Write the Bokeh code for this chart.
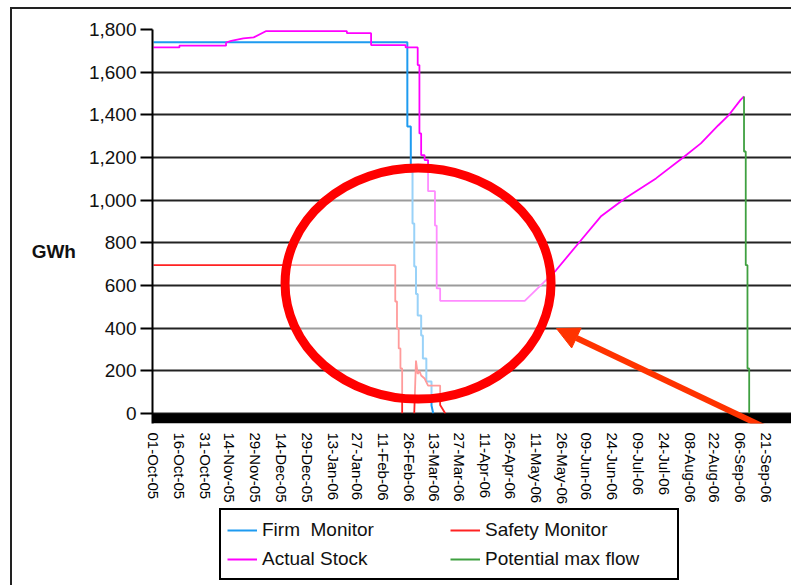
from datetime import datetime, timedelta
from bokeh.plotting import figure
from bokeh.layouts import column
from bokeh.models import (Range1d, FixedTicker, NumeralTickFormatter, DatetimeTickFormatter,
                          BoxAnnotation, Legend, LegendItem, Arrow, NormalHead)
from bokeh.embed import file_html
from bokeh.resources import INLINE

NAN = float("nan")

# ---------------- data ----------------
tick_labels = ["01-Oct-05", "16-Oct-05", "31-Oct-05", "14-Nov-05", "29-Nov-05", "14-Dec-05",
               "29-Dec-05", "13-Jan-06", "27-Jan-06", "11-Feb-06", "26-Feb-06", "13-Mar-06",
               "27-Mar-06", "11-Apr-06", "26-Apr-06", "11-May-06", "26-May-06", "09-Jun-06",
               "24-Jun-06", "09-Jul-06", "24-Jul-06", "08-Aug-06", "22-Aug-06", "06-Sep-06",
               "21-Sep-06"]
y_ticks = [0, 200, 400, 600, 800, 1000, 1200, 1400, 1600, 1800]

# legend order (column by column): Firm, Actual | Safety, Potential
series_names = ["Firm  Monitor", "Actual Stock", "Safety Monitor", "Potential max flow"]

firm_dates = ["2005-10-01", "2006-02-25", "2006-02-25", "2006-02-27", "2006-02-27", "2006-02-28",
              "2006-02-28", "2006-03-01", "2006-03-01", "2006-03-02", "2006-03-02", "2006-03-03",
              "2006-03-03", "2006-03-05", "2006-03-05", "2006-03-06", "2006-03-06", "2006-03-08",
              "2006-03-08", "2006-03-11", "2006-03-11", "2006-03-12"]
firm_values = [1740, 1740, 1345, 1345, 1133, 1133,
               891, 891, 689, 689, 560, 560,
               459, 459, 366, 366, 258, 258,
               150, 150, 37, 0]

safety_dates = ["2005-10-01", "2006-02-18", "2006-02-18", "2006-02-19", "2006-02-19", "2006-02-20",
                "2006-02-20", "2006-02-21", "2006-02-21", "2006-02-22", "2006-02-22", "2006-02-25",
                "2006-03-01", "2006-03-02", "2006-03-03", "2006-03-04", "2006-03-05", "2006-03-07",
                "2006-03-09", "2006-03-16", "2006-03-16", "2006-03-19"]
safety_values = [695, 695, 525, 525, 398, 398,
                 305, 305, 211, 211, 0, NAN,
                 0, 248, 185, 200, 178, 164,
                 131, 131, 40, 0]

stock_dates = ["2005-10-01", "2005-10-16", "2005-10-16", "2005-11-12", "2005-11-12", "2005-11-15",
               "2005-11-22", "2005-11-28", "2005-12-05", "2006-01-21", "2006-01-21", "2006-02-04",
               "2006-02-04", "2006-02-24", "2006-02-24", "2006-03-03", "2006-03-03", "2006-03-04",
               "2006-03-04", "2006-03-05", "2006-03-05", "2006-03-07", "2006-03-07", "2006-03-09",
               "2006-03-09", "2006-03-13", "2006-03-13", "2006-03-14", "2006-03-14", "2006-03-16",
               "2006-03-16", "2006-05-04", "2006-05-22", "2006-06-04", "2006-06-17", "2006-07-01",
               "2006-07-19", "2006-08-03", "2006-08-14", "2006-08-24", "2006-08-30", "2006-09-06",
               "2006-09-08"]
stock_values = [1716, 1716, 1724, 1724, 1739, 1747,
                1758, 1763, 1792, 1792, 1783, 1783,
                1727, 1727, 1716, 1716, 1633, 1633,
                1313, 1313, 1211, 1211, 1188, 1188,
                1042, 1042, 881, 881, 586, 586,
                528, 528, 670, 797, 923, 1008,
                1102, 1195, 1266, 1350, 1397, 1470,
                1486]

flow_dates = ["2006-09-08", "2006-09-08", "2006-09-09", "2006-09-09", "2006-09-10", "2006-09-10",
              "2006-09-11", "2006-09-11"]
flow_values = [1486, 1228, 1228, 695, 695, 211, 211, 0]

# ---------------- helpers ----------------
START = datetime(2005, 10, 1)
EPOCH = datetime(1970, 1, 1)


def to_dt(s):
    return datetime.strptime(s, "%Y-%m-%d")


def day_ms(days):
    return (START + timedelta(days=days) - EPOCH).total_seconds() * 1000.0


FONT = "Liberation Sans"
C_FIRM, C_SAFE, C_STOCK, C_FLOW = "#1E9BF0", "#FF2222", "#FF00FF", "#3FA040"

p = figure(frame_width=639, frame_height=394, x_axis_type="datetime",
           x_range=Range1d(day_ms(-0.6), day_ms(369.5)),
           y_range=Range1d(-47, 1800),
           output_backend="svg", toolbar_location=None,
           min_border_left=140, min_border_right=0, min_border_top=20, min_border_bottom=80)
p.outline_line_color = None
p.background_fill_color = "white"
p.border_fill_color = "white"

# axes
tick_ms = [(datetime.strptime(t, "%d-%b-%y") - EPOCH).total_seconds() * 1000.0 for t in tick_labels]
p.xaxis.ticker = FixedTicker(ticks=tick_ms)
fmt = "%d-%b-%y"
p.xaxis.formatter = DatetimeTickFormatter(microseconds=fmt, milliseconds=fmt, seconds=fmt, minsec=fmt,
                                          minutes=fmt, hourmin=fmt, hours=fmt, days=fmt,
                                          months=fmt, years=fmt)
p.xaxis.major_label_orientation = "vertical"
p.xaxis.axis_line_color = None
p.xaxis.major_tick_line_color = None
p.xaxis.minor_tick_line_color = None
p.xaxis.major_label_standoff = 3
p.xaxis.major_label_text_font = FONT
p.xaxis.major_label_text_font_size = "15px"
p.xaxis.major_label_text_color = "black"

p.yaxis.ticker = FixedTicker(ticks=y_ticks)
p.yaxis.formatter = NumeralTickFormatter(format="0,0")
p.yaxis.axis_line_color = "black"
p.yaxis.axis_line_width = 2
p.yaxis.major_tick_line_color = "black"
p.yaxis.major_tick_line_width = 2
p.yaxis.major_tick_out = 12
p.yaxis.major_tick_in = 0
p.yaxis.minor_tick_line_color = None
p.yaxis.major_label_standoff = 4
p.yaxis.major_label_text_font = FONT
p.yaxis.major_label_text_font_size = "19px"
p.yaxis.major_label_text_color = "#111"
p.yaxis.axis_label = "\n\nGWh"
p.yaxis.axis_label_orientation = "horizontal"
p.yaxis.axis_label_text_font = FONT
p.yaxis.axis_label_text_font_style = "bold"
p.yaxis.axis_label_text_font_size = "19px"
p.yaxis.axis_label_text_color = "#111"
p.yaxis.axis_label_standoff = 10

p.xgrid.visible = False
p.ygrid.grid_line_color = "#222222"
p.ygrid.grid_line_width = 2

# series
p.line([to_dt(s) for s in firm_dates], firm_values, line_color=C_FIRM, line_width=2)
p.line([to_dt(s) for s in safety_dates], safety_values, line_color=C_SAFE, line_width=1.8)
p.line([to_dt(s) for s in stock_dates], stock_values, line_color=C_STOCK, line_width=1.8)
p.line([to_dt(s) for s in flow_dates], flow_values, line_color=C_FLOW, line_width=1.8)

# thick baseline bar
p.add_layout(BoxAnnotation(top=0, fill_color="black", fill_alpha=1.0, line_color=None))

# highlight ellipse
p.ellipse(x=[START + timedelta(days=153.2)], y=[609], width=266, height=231,
          width_units="screen", height_units="screen",
          fill_color="white", fill_alpha=0.55, line_color="#FF0000", line_width=9)

# arrow
arrow_color = "#FF3300"
p.add_layout(Arrow(end=NormalHead(size=22, fill_color=arrow_color, line_color=arrow_color),
                   x_start=day_ms(373.5), y_start=-140, x_end=day_ms(233.4), y_end=398,
                   line_color=arrow_color, line_width=6))

# ---------------- legend strip ----------------
q = figure(width=779, height=78, x_range=Range1d(0, 1), y_range=Range1d(0, 1),
           output_backend="svg", toolbar_location=None, min_border=0)
q.axis.visible = False
q.grid.visible = False
q.outline_line_color = None
q.background_fill_color = "white"
q.border_fill_color = "white"
leg_colors = [C_FIRM, C_STOCK, C_SAFE, C_FLOW]
leg_renderers = [q.line(x=[0], y=[NAN], line_color=c, line_width=2) for c in leg_colors]

legend = Legend(items=[LegendItem(label=n, renderers=[r]) for n, r in zip(series_names, leg_renderers)],
                location=(67, 5), ncols=2,
                label_text_font=FONT, label_text_font_size="19px", label_text_color="#111",
                glyph_width=30, glyph_height=20, label_height=27, label_width=186,
                label_standoff=5, spacing=2, padding=6, margin=0,
                border_line_color="black", border_line_width=2, border_line_alpha=1.0,
                background_fill_color="white", background_fill_alpha=1.0)
q.add_layout(legend)

layout = column(p, q, spacing=0,
                styles={"border-left": "2px solid #222", "border-top": "2px solid #222",
                        "margin-left": "10px", "margin-top": "7px"})

open("out.html", "w").write(file_html(layout, INLINE))
